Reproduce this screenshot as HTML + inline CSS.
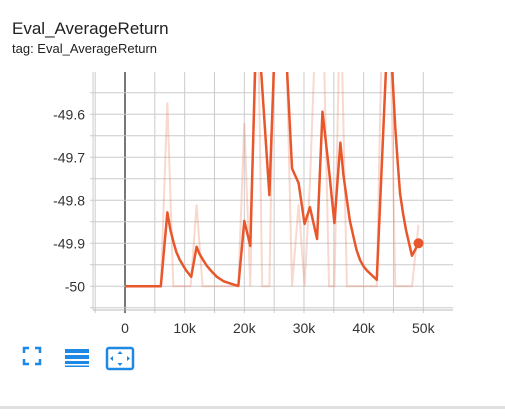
<!DOCTYPE html>
<html><head><meta charset="utf-8"><style>
body{margin:0;width:505px;height:419px;background:#fff;overflow:hidden;font-family:"Liberation Sans",sans-serif;position:relative}
#title{position:absolute;left:12px;top:19px;font-size:17px;color:#212121}
#sub{position:absolute;left:12px;top:41px;font-size:13px;color:#212121}
#bar{position:absolute;left:0;top:406px;width:505px;height:3px;background:#e0e0e0}
</style></head><body>
<div id="title">Eval_AverageReturn</div>
<div id="sub">tag: Eval_AverageReturn</div>
<svg id="chart" width="505" height="419" style="position:absolute;left:0;top:0">
<defs><clipPath id="pc"><rect x="93" y="72" width="360" height="238"/></clipPath></defs>
<g id="grid"></g><g id="marks" clip-path="url(#pc)"></g><g id="axes"></g>
<g transform="translate(24,348)" fill="none" stroke="#1e88e5" stroke-width="2.5">
<path d="M0 5V0H5M11 0H16V5M16 11V16H11M5 16H0V11"/></g>
<g transform="translate(65,349)" fill="#1e88e5">
<rect x="0" y="0" width="24" height="4"/><rect x="0" y="6" width="24" height="4"/><rect x="0" y="12" width="24" height="3"/><rect x="0" y="16.5" width="24" height="1.5"/></g>
<g transform="translate(106,348)">
<rect x="1" y="0" width="26" height="21" rx="2" fill="none" stroke="#1e88e5" stroke-width="2.5"/>
<path d="M14 3l-2.5 3h5zM14 18l-2.5-3h5zM4 10.5l3-2.5v5zM24 10.5l-3-2.5v5z" fill="#1e88e5"/></g>
</svg>
<div id="bar"></div>
<script>
const rawSteps=[0,1000,2000,3000,4000,5000,6000,7100,8100,9000,10000,11000,12000,13000,14000,15000,16000,17000,18000,19000,20000,21000,22100,23000,24200,25200,26000,26800,28000,29100,30100,31000,32200,33100,34200,35100,36100,37200,38300,39400,40600,42200,43200,44200,45300,46100,47100,48100,49200];
const rawValues=[-50,-50,-50,-50,-50,-50,-50,-49.572,-50,-50,-50,-50,-49.81,-50,-50,-50,-50,-50,-50,-50,-49.621,-50,-49.2,-50,-50,-49.2,-49.2,-49.3,-50,-49.81,-50,-49.76,-49.3,-49.3,-50,-50,-49.3,-50,-50,-50,-50,-50,-49.3,-49.2,-50,-50,-50,-50,-49.857];
const smoothSteps=[0,6000,7100,7600,8100,8600,9200,10200,11100,12000,12500,13100,13700,14300,15400,16500,18000,19000,20000,21000,22100,24200,25200,26800,28000,29100,30100,31000,32200,33100,34200,35100,36100,36600,37200,37700,38300,38800,39400,40000,40600,42200,44200,45300,45700,46100,46600,47100,48100,49200];
const smoothValues=[-50,-50,-49.828,-49.868,-49.896,-49.92,-49.939,-49.962,-49.978,-49.908,-49.925,-49.939,-49.952,-49.962,-49.978,-49.988,-49.995,-49.999,-49.848,-49.906,-49.35,-49.788,-49.4,-49.4,-49.726,-49.76,-49.855,-49.816,-49.89,-49.594,-49.73,-49.853,-49.666,-49.74,-49.8,-49.848,-49.885,-49.915,-49.939,-49.954,-49.964,-49.985,-49.35,-49.63,-49.71,-49.784,-49.83,-49.869,-49.929,-49.9];
const yTicks=[-50,-49.9,-49.8,-49.7,-49.6];
const yTickLabels=["-50","-49.9","-49.8","-49.7","-49.6"];
const xTicks=[0,10000,20000,30000,40000,50000];
const xTickLabels=["0","10k","20k","30k","40k","50k"];
const NS="http://www.w3.org/2000/svg";
const X=s=>125+s*(298.3/50000);
const Y=v=>286.3-(v+50)*430;
function mk(t,a,p){const e=document.createElementNS(NS,t);for(const k in a)e.setAttribute(k,a[k]);p.appendChild(e);return e;}
const grid=document.getElementById('grid'),marks=document.getElementById('marks'),axes=document.getElementById('axes');
for(let s=-5000;s<=55000;s+=5000){const x=X(s);if(x<93||x>453)continue;
const l=mk('line',{x1:x,x2:x,y1:72,y2:313,stroke:s===0?'#777':'#ccc','stroke-width':s===0?2:1},grid);

}
for(let v=-50.05;v<=-49.54;v+=0.05){const y=Y(v);if(y<72||y>310)continue;
const l=mk('line',{x1:90,x2:453,y1:y,y2:y,stroke:'#ccc','stroke-width':1},grid);

}
const ax=mk('line',{x1:93,x2:453,y1:310,y2:310,stroke:'#bbb'},axes);


const ay=mk('line',{x1:93,x2:93,y1:72,y2:310,stroke:'#ccc'},axes);


yTicks.forEach((v,i)=>{const t=mk('text',{x:85,y:Y(v)+5,'text-anchor':'end','font-size':14,fill:'#333'},axes);t.textContent=yTickLabels[i];

});
xTicks.forEach((s,i)=>{const t=mk('text',{x:X(s),y:333,'text-anchor':'middle','font-size':14,fill:'#333'},axes);t.textContent=xTickLabels[i];

});
const rp=mk('polyline',{points:rawSteps.map((s,i)=>X(s)+','+Y(rawValues[i])).join(' '),fill:'none',stroke:'#e8693e','stroke-opacity':0.25,'stroke-width':2},marks);


const sp=mk('polyline',{points:smoothSteps.map((s,i)=>X(s)+','+Y(smoothValues[i])).join(' '),fill:'none',stroke:'#e8572c','stroke-width':2.5,'stroke-linejoin':'round'},marks);


const n=smoothSteps.length-1;
const dot=mk('circle',{cx:X(smoothSteps[n]),cy:Y(smoothValues[n]),r:5,fill:'#e8572c'},axes);


</script>
</body></html>
